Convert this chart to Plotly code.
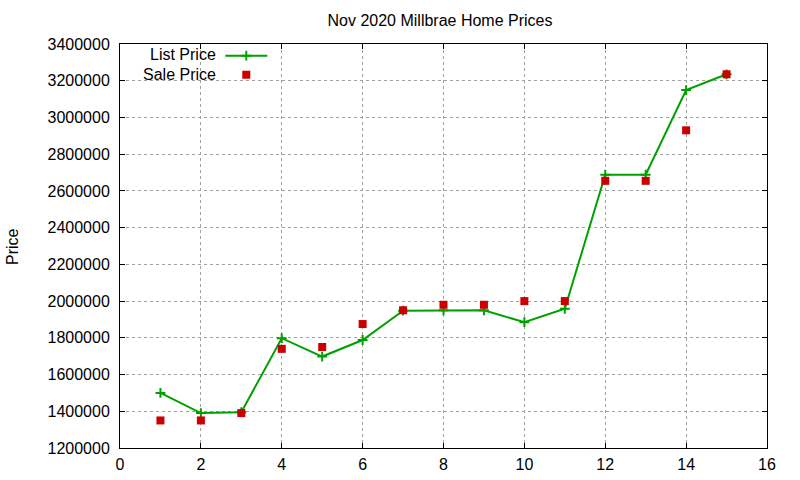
import plotly.graph_objects as go

# Nov 2020 Millbrae listings, one row per home
homes = list(range(1, 16))
list_price = [1500000, 1390000, 1395000, 1798000, 1698000, 1788000, 1948000, 1950000,
              1950000, 1885000, 1958000, 2688000, 2688000, 3149000, 3235000]
sale_price = [1350000, 1350000, 1390000, 1740000, 1750000, 1875000, 1950000, 1980000,
              1980000, 2000000, 2000000, 2655000, 2655000, 2930000, 3235000]
x_ticks = list(range(0, 17, 2))
y_ticks = list(range(1200000, 3400001, 200000))

font = "Liberation Sans, Arial, sans-serif"
green = "#00a000"
red = "#cc0000"

fig = go.Figure()

fig.add_trace(go.Scatter(x=homes, y=list_price, mode='lines+markers', name='',
                         line=dict(color=green, width=2),
                         marker=dict(symbol='cross-thin', size=7, line=dict(color=green, width=2))))
fig.add_trace(go.Scatter(x=homes, y=sale_price, mode='markers', name=' ',
                         marker=dict(symbol='square', size=8, color=red)))

axis_style = dict(showline=True, linecolor='black', linewidth=1, mirror='ticks',
                  ticks='inside', ticklen=5, tickcolor='black', automargin=False,
                  showgrid=True, gridcolor='#a0a0a0', griddash='dot', gridwidth=1,
                  zeroline=False, tickfont=dict(family=font, size=16, color='black'))

fig.update_xaxes(range=[0, 16], tickvals=x_ticks, ticklabelstandoff=2, **axis_style)
fig.update_yaxes(range=[1200000, 3400000], tickvals=y_ticks, tickformat='d',
                 ticklabelstandoff=6, **axis_style)

fig.update_layout(
    width=800, height=480,
    margin=dict(l=120, r=33, t=44, b=32),
    plot_bgcolor='white', paper_bgcolor='white',
    font=dict(family=font, size=16, color='black'),
    title=dict(text='Nov 2020 Millbrae Home Prices', x=0.55, xanchor='center',
               y=1 - 20 / 480, yanchor='middle', font=dict(family=font, size=16, color='black')),
    legend=dict(x=0.155, xanchor='left', y=1.007, yanchor='top', bgcolor='rgba(0,0,0,0)',
                font=dict(size=8), itemwidth=42, tracegroupgap=0),
    annotations=[
        dict(text='Price', xref='paper', yref='paper', x=-0.167, y=0.5, textangle=-90,
             showarrow=False, xanchor='center', yanchor='middle'),
        dict(text='List Price', xref='paper', yref='paper', x=0.152, y=0.9728,
             showarrow=False, xanchor='right', yanchor='middle'),
        dict(text='Sale Price', xref='paper', yref='paper', x=0.152, y=0.9257,
             showarrow=False, xanchor='right', yanchor='middle'),
    ],
)

fig.write_html("out.html", config={'displayModeBar': False},
               post_script="document.body.style.margin='0px';")
